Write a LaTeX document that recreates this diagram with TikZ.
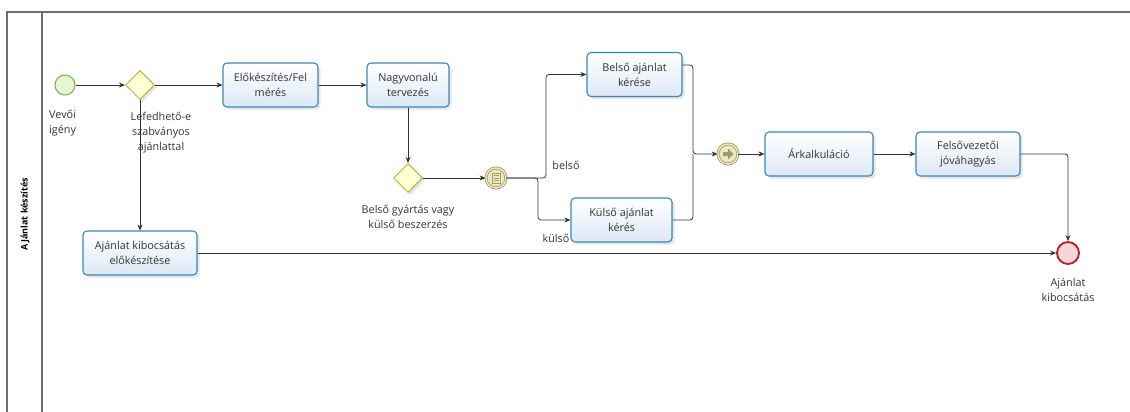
\documentclass[tikz,border=0pt]{standalone}
\usepackage{fontspec}
\setmainfont{Open Sans}
\usetikzlibrary{positioning, arrows.meta, shapes.geometric, shadows, calc}

\definecolor{taskblue}{HTML}{3A87B8}
\definecolor{taskfill}{HTML}{DCE8F6}
\definecolor{gateolive}{HTML}{B4B43C}
\definecolor{gatefill}{HTML}{FFFFD6}
\definecolor{evolive}{HTML}{A49C5C}
\definecolor{evfill}{HTML}{ECE8C6}
\definecolor{startgreen}{HTML}{74B43A}
\definecolor{startfill}{HTML}{E6F5D6}
\definecolor{endred}{HTML}{AE1E28}
\definecolor{endfill}{HTML}{F7D5D7}
\definecolor{lanegray}{HTML}{6E6E6E}
\definecolor{textgray}{HTML}{333333}

\begin{document}
\begin{tikzpicture}[
        x=1pt, y=-1pt,
        >={Stealth[length=6pt,width=5pt]},
        font=\fontsize{10.8}{15}\selectfont,
        every node/.style={text=textgray},
        softshadow/.style={drop shadow={opacity=0.2, shadow xshift=2.5pt, shadow yshift=-2.5pt}},
        task/.style={draw=taskblue, line width=1.1pt, rounded corners=4pt, top color=white, bottom color=taskfill, align=center, minimum height=44pt, softshadow},
        gateway/.style={diamond, draw=gateolive, fill=gatefill, line width=1pt, minimum size=29pt, inner sep=0pt, softshadow},
        startevent/.style={circle, draw=startgreen, fill=startfill, line width=1pt, minimum size=20pt, inner sep=0pt},
        endevent/.style={circle, draw=endred, fill=endfill, line width=1.8pt, minimum size=22pt, inner sep=0pt},
        interevent/.style={circle, draw=evolive, fill=evfill, double=evfill, double distance=1.4pt, line width=0.8pt, minimum size=20pt, inner sep=0pt},
        flow/.style={->, draw=black!80, line width=0.8pt, rounded corners=3pt},
        lbl/.style={align=center, inner sep=0pt},
        lane/.style={draw=lanegray, line width=1.1pt}
    ]
        \useasboundingbox (0,0) rectangle (1130,412);

        % pool and lane
        \draw[lane] (7,412) -- (7,12) -- (1130,12);
        \draw[lane] (42,12) -- (42,412);
        \node[rotate=90, font=\fontsize{9}{10}\selectfont\bfseries, text=black] (lanetitle) at (25,214) {AJánlat készítés};

        \node[startevent] (start) at (65,85) {};
        \node[gateway] (gw1) at (140,85) {};
\node[task, minimum width=95pt] (elo) at (270.5,85) {Előkészítés/Fel\\mérés};
        \node[task, minimum width=82pt] (nagy) at (408,85) {Nagyvonalú\\tervezés};
        \node[gateway] (gw2) at (408,178) {};
        \node[interevent] (ev1) at (496,178) {};
        \node[task, minimum width=95pt] (belso) at (634.5,74.5) {Belső ajánlat\\kérése};
        \node[task, minimum width=101pt] (kulso) at (621.5,220) {Külső ajánlat\\kérés};
        \node[interevent] (ev2) at (728,154) {};
        \node[task, minimum width=108pt] (ark) at (819,154) {Árkalkuláció};
        \node[task, minimum width=104pt] (felso) at (968,154) {Felsővezetői\\jóváhagyás};
        \node[task, minimum width=114pt] (kib) at (140,253) {Ajánlat kibocsátás\\előkészítése};
        \node[endevent] (end) at (1068,253) {};

        % labels
        \node[lbl, align=left, anchor=north west] (startlbl) at (49,110) {Vevői\\igény};
        \node[lbl] (gw1lbl) at (161,133) {Lefedhető-e\\szabványos\\ajánlattal};
        \node[lbl] (gw2lbl) at (408,217) {Belső gyártás vagy\\külső beszerzés};
        \node[lbl] (belsolbl) at (566,165) {belső};
        \node[lbl] (kulsolbl) at (556,238) {külső};
        \node[lbl] (endlbl) at (1068,290) {Ajánlat\\kibocsátás};

        % event markers
        \draw[evolive, line width=0.6pt] ($(ev1)+(-4,-5)$) rectangle ($(ev1)+(4,5)$);
        \foreach \dy in {-2.5,0,2.5}
            \draw[evolive, line width=0.6pt] ($(ev1)+(-2.5,\dy)$) -- ($(ev1)+(2.5,\dy)$);
        \fill[evolive] ($(ev2)+(-5,-2)$) -- ($(ev2)+(0,-2)$) -- ($(ev2)+(0,-5.5)$) -- ($(ev2)+(5.5,0)$)
            -- ($(ev2)+(0,5.5)$) -- ($(ev2)+(0,2)$) -- ($(ev2)+(-5,2)$) -- cycle;

        \coordinate (splitup) at (546,178);
        \coordinate (splitdown) at (538,178);
        \coordinate (join) at (693,154);

\path[flow]
        (start) edge (gw1)
        (gw1) edge (elo)
        (elo) edge (nagy)
        (nagy) edge (gw2)
        (gw2) edge (ev1)
        (gw1) edge (kib)
        (kib) edge (end)
        (ev2) edge (ark)
        (ark) edge (felso);
        \draw[flow] (ev1) -- (splitup) |- (belso);
        \draw[flow] (ev1) -- (splitdown) |- (kulso);
        \draw[flow] ([yshift=9.5pt]belso.east) -| (join) -- (ev2);
        \draw[flow, -] (kulso) -| (join);
        \draw[flow] (felso) -| (end);
\end{tikzpicture}
\end{document}
